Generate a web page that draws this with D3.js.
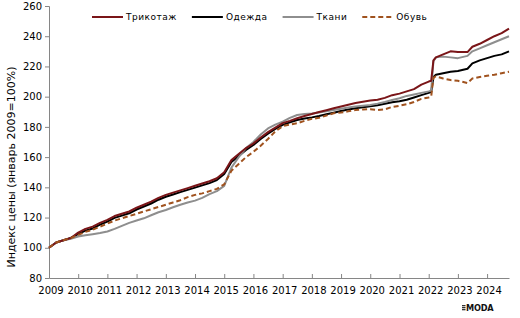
<!DOCTYPE html>
<html>
<head>
<meta charset="utf-8">
<script src="https://cdn.jsdelivr.net/npm/d3@7"></script>
<style>
  body { margin: 0; background: #fff; }
  svg { display: block; }
</style>
</head>
<body>
<div id="chart"></div>
<script>
// monthly index, January 2009 = 100
const months = [
  '2009-01', '2009-04', '2009-07', '2009-10',
  '2010-01', '2010-04', '2010-07', '2010-10',
  '2011-01', '2011-04', '2011-07', '2011-10',
  '2012-01', '2012-04', '2012-07', '2012-10',
  '2013-01', '2013-04', '2013-07', '2013-10',
  '2014-01', '2014-04', '2014-07', '2014-10',
  '2015-01', '2015-04', '2015-07', '2015-10',
  '2016-01', '2016-04', '2016-07', '2016-10',
  '2017-01', '2017-04', '2017-07', '2017-10',
  '2018-01', '2018-04', '2018-07', '2018-10',
  '2019-01', '2019-04', '2019-07', '2019-10',
  '2020-01', '2020-04', '2020-07', '2020-10',
  '2021-01', '2021-04', '2021-07', '2021-10',
  '2022-01', '2022-02', '2022-03', '2022-04', '2022-07', '2022-10',
  '2023-01', '2023-05', '2023-07', '2023-10',
  '2024-01', '2024-04', '2024-07', '2024-10'
];

const knitwear = [
  100, 103.5, 105, 106.5,
  110, 112.5, 114, 116.5,
  118.5, 121, 122.5, 124,
  126.5, 128.5, 130.5, 133,
  135, 136.5, 138, 139.5,
  141, 142.5, 144, 146,
  150, 158, 162, 166,
  169, 173, 176.5, 179.5,
  182.5, 184, 185.7, 187.2,
  188.5, 189.8, 191, 192.3,
  193.5, 194.6, 195.8, 196.6,
  197.4, 198, 199.2, 201,
  202, 203.5, 205, 208,
  210, 210.5, 224, 226, 228, 230,
  229.5, 229.5, 233, 235,
  237.5, 240, 242, 245
];

const clothing = [
  100, 103.5, 105, 106.5,
  109, 111.3, 112.8, 115.3,
  117.3, 119.8, 121.3, 122.8,
  125.3, 127.3, 129.3, 131.8,
  133.8, 135.3, 136.8, 138.3,
  139.8, 141.3, 142.8, 144.8,
  148.8, 156.8, 160.8, 164.8,
  168, 172, 175.5, 178.7,
  181.3, 183, 184.6, 185.5,
  186.3, 187.2, 188.3, 189.4,
  190.5, 191.5, 192.4, 193,
  193.6, 194.3, 195.3, 196.3,
  197, 198, 199.5, 201,
  202.5, 203, 213, 214.5, 215.5, 216.5,
  217, 218.5, 222, 224,
  225.5, 227, 228, 230
];

const fabrics = [
  100, 103.5, 105, 106,
  107.5, 108.3, 109, 109.8,
  110.8, 112.5, 114.5, 116.5,
  118, 119.5, 121.5, 123.5,
  125, 126.8, 128.5, 130,
  131.2, 133, 135.5, 137.5,
  141, 153, 160, 166,
  170, 175, 179, 181.5,
  183.5, 186, 187.9, 188.5,
  188.8, 189.5, 190.3, 191.2,
  192, 192.8, 193.5, 194,
  194.5, 195.4, 196.5, 197.8,
  199, 200.5, 201.5, 202.5,
  203.5, 204, 223.5, 226, 226.5, 226,
  225.5, 227, 230, 232,
  234, 236, 238, 240
];

const footwear = [
  100, 103.5, 105, 106.5,
  108.5, 110.5, 112, 114,
  116, 118, 119.5, 121,
  122.5, 124, 125.5, 127,
  128.5, 130, 131.5, 133.5,
  135, 136, 137.5, 139,
  142, 151, 155.5, 160,
  163.5, 167.5, 172, 177,
  180.5, 181.5, 182.4, 184,
  185.3, 186, 187.5, 189,
  189.5, 190.3, 191.2, 191.5,
  191.7, 191.2, 191.6, 193.2,
  194, 195, 196.5, 198.5,
  199.5, 200, 212.5, 213.5, 212, 211,
  210.5, 209, 212, 213,
  213.8, 214.5, 215.5, 216.5
];

const seriesNames = ['Трикотаж', 'Одежда', 'Ткани', 'Обувь'];
const yTicks = [80, 100, 120, 140, 160, 180, 200, 220, 240, 260];
const yearTicks = d3.range(2009, 2025);

const colors = ['#7a1518', '#000000', '#8e8e8e', '#a0521e'];
const dashes = [null, null, null, '5,3'];
const drawOrder = [1, 2, 0, 3];

const margin = { top: 6, right: 11, bottom: 40, left: 49 },
  width = 520 - margin.left - margin.right,
  height = 318 - margin.top - margin.bottom;

const parse = d3.timeParse('%Y-%m');
const dates = months.map(parse);
const series = [knitwear, clothing, fabrics, footwear];

const svg = d3.select('#chart')
  .append('svg')
  .attr('width', 520)
  .attr('height', 318);

svg.append('rect')
  .attr('width', 520).attr('height', 318)
  .attr('fill', '#fff');

const g = svg.append('g')
  .attr('transform', `translate(${margin.left}, ${margin.top})`);

const x = d3.scaleTime()
  .domain([parse('2009-01'), parse('2024-10')])
  .range([0, width]);

const y = d3.scaleLinear()
  .domain([80, 260])
  .range([height, 0]);

// axes
const yAxis = g.append('g')
  .call(d3.axisLeft(y).tickValues(yTicks).tickSize(4).tickPadding(3));
yAxis.select('.domain').attr('stroke', '#868686');
yAxis.selectAll('.tick line').attr('stroke', '#868686');
yAxis.selectAll('.tick text')
  .attr('font-family', 'DejaVu Sans').attr('font-size', '10px')
  .attr('fill', '#000');

const xAxis = g.append('g')
  .attr('transform', `translate(0, ${height})`)
  .call(d3.axisBottom(x)
    .tickValues(yearTicks.map(yr => new Date(yr, 0, 1)))
    .tickFormat(d3.timeFormat('%Y'))
    .tickSizeInner(-4).tickSizeOuter(0)
    .tickPadding(8.5));
xAxis.select('.domain').attr('stroke', '#868686');
xAxis.selectAll('.tick line').attr('stroke', '#868686');
xAxis.selectAll('.tick text')
  .attr('dx', 1.5)
  .attr('font-family', 'DejaVu Sans').attr('font-size', '10px')
  .attr('fill', '#000');

svg.append('text')
  .attr('transform', 'translate(15, 167) rotate(-90)')
  .attr('text-anchor', 'middle')
  .attr('font-family', 'DejaVu Sans').attr('font-size', '11px')
  .attr('fill', '#000')
  .text('Индекс цены (январь 2009=100%)');

// lines
const line = d3.line()
  .x((d, i) => x(dates[i]))
  .y(d => y(d));

drawOrder.forEach(k => {
  g.append('path')
    .datum(series[k])
    .attr('fill', 'none')
    .attr('stroke', colors[k])
    .attr('stroke-width', 2)
    .attr('stroke-linejoin', 'round')
    .attr('stroke-dasharray', dashes[k])
    .attr('d', line);
});

// legend
let lx = 92;
seriesNames.forEach((name, k) => {
  svg.append('line')
    .attr('x1', lx).attr('x2', lx + 31)
    .attr('y1', 17).attr('y2', 17)
    .attr('stroke', colors[k])
    .attr('stroke-width', 2)
    .attr('stroke-dasharray', dashes[k]);
  const t = svg.append('text')
    .attr('x', lx + 34).attr('y', 20.3)
    .attr('font-family', 'DejaVu Sans').attr('font-size', '9px')
    .attr('letter-spacing', '0.5px')
    .attr('fill', '#000')
    .text(name);
  lx += 34 + t.node().getComputedTextLength() + 15;
});

// logo
const logo = svg.append('g').attr('transform', 'translate(462, 305)');
[0, 2, 4].forEach(dy => {
  logo.append('rect')
    .attr('x', 0).attr('y', dy)
    .attr('width', 3.5).attr('height', 1.3)
    .attr('fill', '#333');
});
logo.append('text')
  .attr('x', 4).attr('y', 6)
  .attr('font-family', 'DejaVu Sans').attr('font-weight', 'bold')
  .attr('font-size', '8.2px')
  .attr('letter-spacing', '-0.2px')
  .attr('fill', '#111')
  .text('MODA');
</script>
</body>
</html>
